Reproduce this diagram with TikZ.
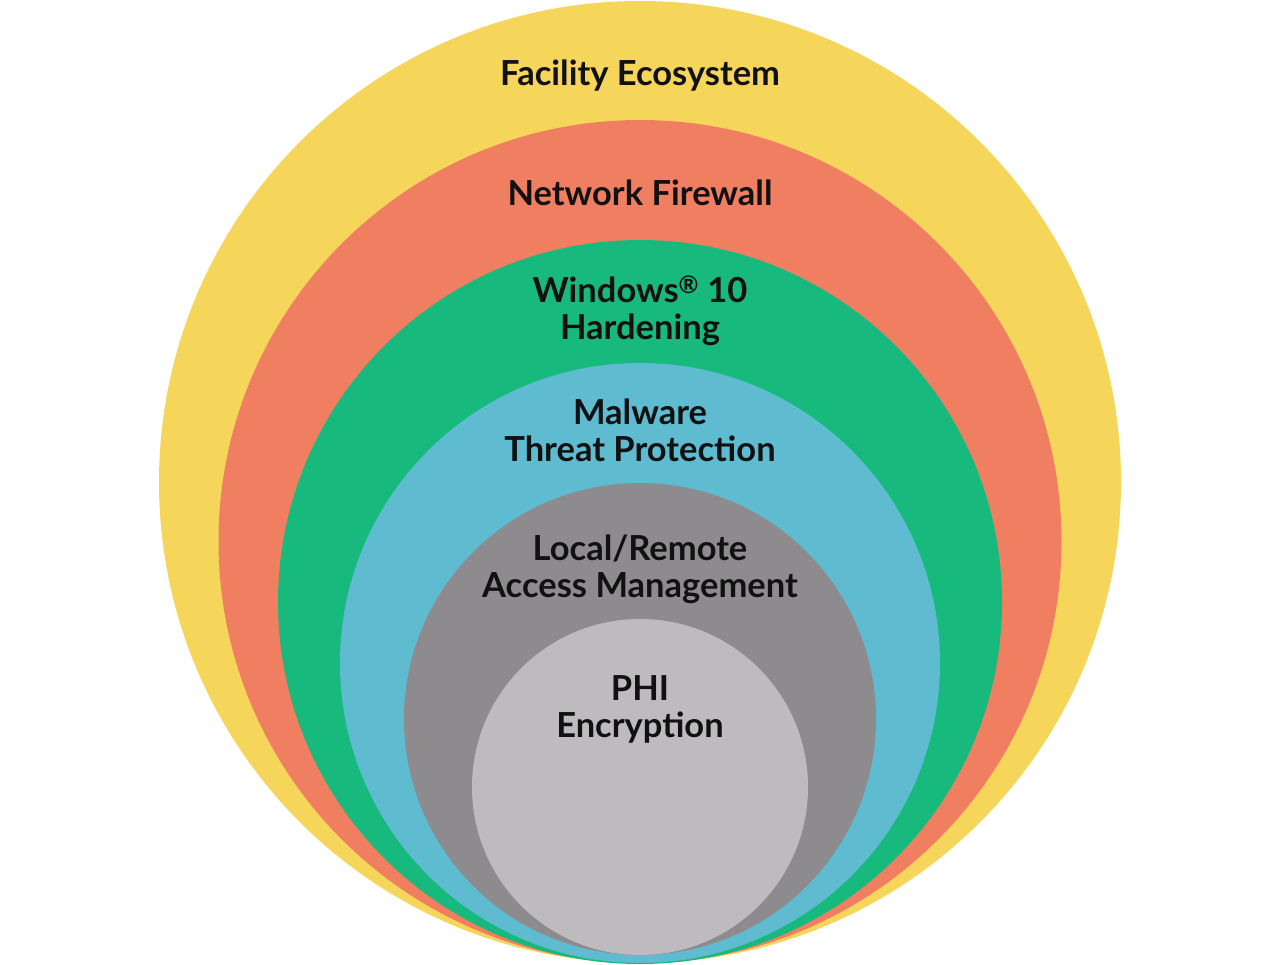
\documentclass[tikz,border=0pt]{standalone}
\usepackage{fontspec}
\setmainfont{Lato}
\definecolor{cyellow}{HTML}{F5D55A}
\definecolor{corange}{HTML}{F07F62}
\definecolor{cgreen}{HTML}{18B97C}
\definecolor{cblue}{HTML}{5FBCD0}
\definecolor{cdgray}{HTML}{8D8B8E}
\definecolor{clgray}{HTML}{BDBBBE}
\definecolor{ctext}{HTML}{111111}
\tikzset{
  ring/.style={circle, inner sep=0pt, draw=none},
  lbl/.style={text=ctext, font=\fontsize{34.5}{37}\selectfont\bfseries, align=center, inner sep=0pt}
}
\begin{document}
\begin{tikzpicture}[x=1pt,y=-1pt]
\useasboundingbox (0,0) rectangle (1280,965);
\fill[white] (0,0) rectangle (1280,965);
\node[ring, fill=cyellow, minimum size=962pt] (c1) at (640,482) {};
\node[ring, fill=corange, minimum size=843pt] (c2) at (640,541.5) {};
\node[ring, fill=cgreen, minimum size=724pt] (c3) at (640,602) {};
\node[ring, fill=cblue, minimum size=600pt] (c4) at (640,663) {};
\node[ring, fill=cdgray, minimum size=472pt] (c5) at (640,719) {};
\node[ring, fill=clgray, minimum size=336pt] (c6) at (640,787) {};
\node[lbl] (t1) at (640,76) {Facility Ecosystem};
\node[lbl] (t2) at (640,193) {Network Firewall};
\node[lbl] (t3) at (640,310.5) {Windows\textsuperscript{\textregistered} 10\\Hardening};
\node[lbl] (t4) at (640,430.5) {Malware\\Threat Protection};
\node[lbl] (t5) at (640,569.5) {Local/Remote\\Access Management};
\node[lbl] (t6) at (640,709.5) {PHI\\Encryption};
\end{tikzpicture}
\end{document}
